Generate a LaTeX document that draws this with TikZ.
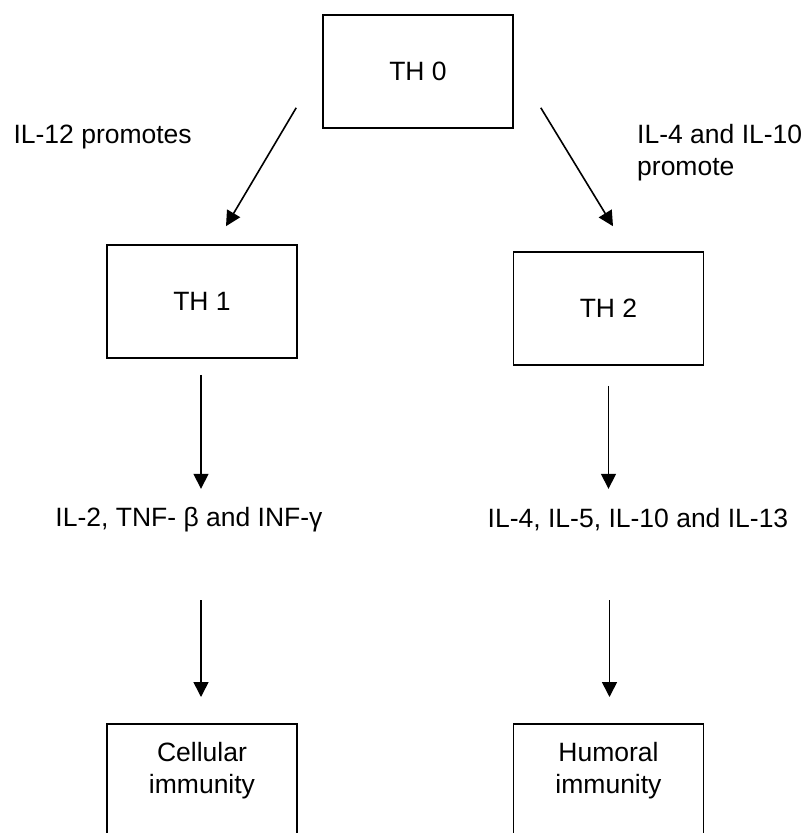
\documentclass[tikz,border=0pt]{standalone}
\usepackage{fontspec}
\setmainfont{Liberation Sans}
\usetikzlibrary{calc,positioning,arrows.meta}

\begin{document}
\begin{tikzpicture}[x=1pt,y=-1pt,
  every node/.style={align=center,font=\fontsize{26.5}{32}\selectfont},
  cell/.style={draw,line width=1.6pt,minimum width=190pt,minimum height=113pt},
  arr/.style={line width=1.6pt,-{Triangle[length=15pt,width=15pt]}}]
\useasboundingbox (0,0) rectangle (802,833);
\node [cell] (ThZero) at (418,71.5) {TH 0};
\node [cell] (ThOne) at (202,301.5) {TH 1};
\node [cell] (ThTwo) at (608.5,308.5) {TH 2};
\node [anchor=west] (PromotesOne) at (10,137) {IL-12 promotes};
\node [anchor=north west,align=left,inner sep=0pt] (PromotesTwo) at (637,124) {IL-4 and IL-10\\promote};
\node (CytokinesOne) at (189,520) {IL-2, TNF- β and INF-γ};
\node (CytokinesTwo) at (638,520) {IL-4, IL-5, IL-10 and IL-13};
\node [cell,anchor=north,inner ysep=18pt,text depth=80pt] (CellularImmunity) at (202,723) {Cellular\\immunity};
\node [cell,anchor=north,inner ysep=18pt,text depth=80pt] (HumoralImmunity) at (608.5,723) {Humoral\\immunity};
\draw [arr] ($(ThZero.south west)+(-26,-21)$) -- ($(ThOne.north)+(24,-18)$);
\draw [arr] ($(ThZero.south east)+(27,-21)$) -- ($(ThTwo.north)+(4.5,-25)$);
\draw [arr] ($(ThOne.south)+(-1,16)$) -- ($(ThOne.south)+(-1,130)$);
\draw [arr] ($(ThTwo.south)+(0,20)$) -- ($(ThTwo.south)+(0,123)$);
\draw [arr] ($(CellularImmunity.north)+(-1,-123)$) -- ($(CellularImmunity.north)+(-1,-26)$);
\draw [arr] ($(HumoralImmunity.north)+(1,-123)$) -- ($(HumoralImmunity.north)+(1,-26)$);
\end{tikzpicture}
\end{document}
